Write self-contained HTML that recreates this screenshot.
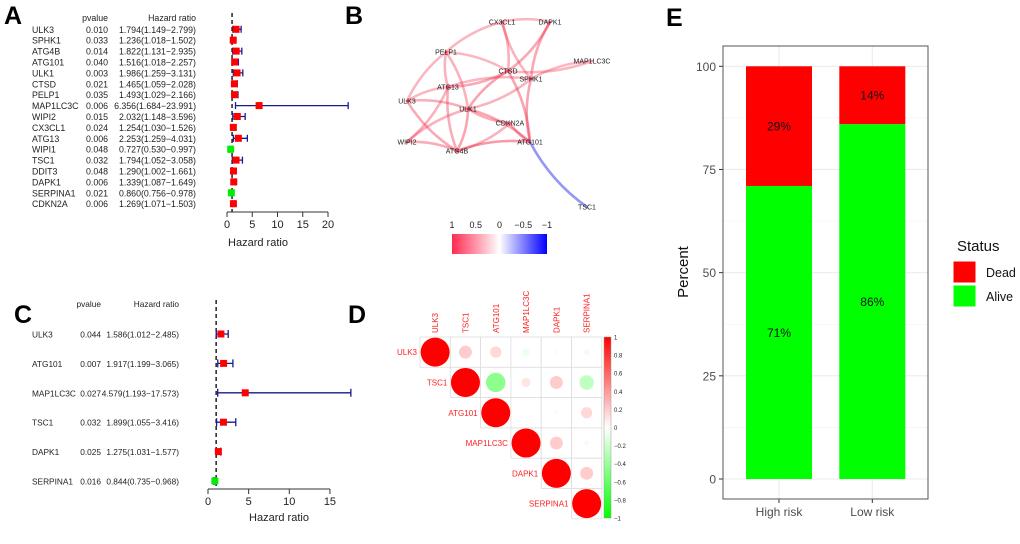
<!DOCTYPE html>
<html><head><meta charset="utf-8"><style>
body{margin:0;background:#fff;width:1020px;height:539px;overflow:hidden}
svg{font-family:"Liberation Sans",Arial,sans-serif}
</style></head><body>
<svg id="s" width="1020" height="539" viewBox="0 0 1020 539">
<g font-weight="bold" font-size="25" fill="#000">
<text x="4" y="24">A</text>
<text x="345" y="24">B</text>
<text x="14" y="323">C</text>
<text x="348" y="323">D</text>
<text x="666" y="26">E</text>
</g>
</svg>
<script>
// ---- Panel A data ----
const aGenes=["ULK3","SPHK1","ATG4B","ATG101","ULK1","CTSD","PELP1","MAP1LC3C","WIPI2","CX3CL1","ATG13","WIPI1","TSC1","DDIT3","DAPK1","SERPINA1","CDKN2A"];
const aP=["0.010","0.033","0.014","0.040","0.003","0.021","0.035","0.006","0.015","0.024","0.006","0.048","0.032","0.048","0.006","0.021","0.006"];
const aHR=[1.794,1.236,1.822,1.516,1.986,1.465,1.493,6.356,2.032,1.254,2.253,0.727,1.794,1.290,1.339,0.860,1.269];
const aLo=[1.149,1.018,1.131,1.018,1.259,1.059,1.029,1.684,1.148,1.030,1.259,0.530,1.052,1.002,1.087,0.756,1.071];
const aHi=[2.799,1.502,2.935,2.257,3.131,2.028,2.166,23.991,3.596,1.526,4.031,0.997,3.058,1.661,1.649,0.978,1.503];
const aTicks=[0,5,10,15,20];
// ---- Panel C data ----
const cGenes=["ULK3","ATG101","MAP1LC3C","TSC1","DAPK1","SERPINA1"];
const cP=["0.044","0.007","0.027","0.032","0.025","0.016"];
const cHR=[1.586,1.917,4.579,1.899,1.275,0.844];
const cLo=[1.012,1.199,1.193,1.055,1.031,0.735];
const cHi=[2.485,3.065,17.573,3.416,1.577,0.968];
const cTicks=[0,5,10,15];
// ---- Panel B network ----
const bNodes=["CX3CL1","DAPK1","PELP1","MAP1LC3C","CTSD","SPHK1","ATG13","ULK3","ULK1","CDKN2A","WIPI2","ATG4B","ATG101","TSC1"];
const bNodeX=[502,550,446,592,508,531,448,407,468,510,407,457,530,587];
const bNodeY=[22,22,52,61,71,79,87,101,109,123,142,151,142,207];
const bEdges=[["CX3CL1","DAPK1",0.3],["CX3CL1","PELP1",0.3],["CX3CL1","CTSD",0.35],["CX3CL1","SPHK1",0.35],["DAPK1","CTSD",0.45],["DAPK1","SPHK1",0.45],["PELP1","CTSD",0.3],["PELP1","ATG13",0.35],["PELP1","ULK1",0.35],["PELP1","ULK3",0.3],["MAP1LC3C","CTSD",0.3],["MAP1LC3C","SPHK1",0.3],["CTSD","ATG13",0.45],["CTSD","ULK1",0.5],["CTSD","ATG101",0.5],["SPHK1","ATG101",0.5],["SPHK1","ULK1",0.35],["SPHK1","ATG13",0.3],["ATG13","WIPI2",0.35],["ATG13","ATG4B",0.4],["ULK3","ULK1",0.4],["ULK3","ATG4B",0.45],["ULK3","ATG13",0.3],["ULK1","WIPI2",0.35],["ULK1","ATG4B",0.5],["ULK1","CDKN2A",0.4],["ULK1","ATG101",0.45],["CDKN2A","ATG101",0.45],["ATG4B","ATG101",0.6],["ATG4B","CDKN2A",0.35],["WIPI2","ATG4B",0.4],["ATG101","TSC1",-0.5]];
const bLegendTicks=[1,0.5,0,-0.5,-1];
// ---- Panel D correlation ----
const dGenes=["ULK3","TSC1","ATG101","MAP1LC3C","DAPK1","SERPINA1"];
const dCorr=[[1,0.2,0.15,-0.07,0.02,0.04],[0.2,1,-0.45,0.1,0.2,-0.25],[0.15,-0.45,1,0.01,0.02,0.15],[-0.07,0.1,0.01,1,0.2,0.03],[0.02,0.2,0.02,0.2,1,0.2],[0.04,-0.25,0.15,0.03,0.2,1]];
const dTicks=[1,0.8,0.6,0.4,0.2,0,-0.2,-0.4,-0.6,-0.8,-1];
// ---- Panel E stacked bars ----
const eCats=["High risk","Low risk"];
const eDead=[29,14];
const eAlive=[71,86];
const eTicks=[0,25,50,75,100];

const S=document.getElementById('s');const NS="http://www.w3.org/2000/svg";
function mk(t,a,p,txt){const e=document.createElementNS(NS,t);for(const k in a)e.setAttribute(k,a[k]);if(txt!==undefined)e.textContent=txt;(p||S).appendChild(e);return e;}

function forest(genes,P,HR,LO,HI,ticks,o){
  const g=mk('g',{});
  
  
  const xs=v=>o.x0+v*o.k, ys=i=>o.y0+i*o.dy;
  mk('text',{x:o.pX,y:o.hy,'text-anchor':'end','font-size':o.fs,fill:'#222'},g,'pvalue');
  mk('text',{x:o.hX,y:o.hy,'text-anchor':'end','font-size':o.fs,fill:'#222'},g,'Hazard ratio');
  mk('line',{x1:xs(1),x2:xs(1),y1:o.dTop,y2:o.axY,stroke:'#000','stroke-dasharray':'4,3','stroke-width':1.3},g);
  genes.forEach((n,i)=>{const y=ys(i);
    const r=mk('text',{x:32,y:y+3.5,'font-size':o.fs,fill:'#222'},g,n);
    
    
    mk('text',{x:o.pX,y:y+3.5,'text-anchor':'end','font-size':o.fs,fill:'#222'},g,P[i]);
    mk('text',{x:o.hX,y:y+3.5,'text-anchor':'end','font-size':o.fs,fill:'#222'},g,HR[i].toFixed(3)+'('+LO[i].toFixed(3)+'\u2212'+HI[i].toFixed(3)+')');
    const c=o.cap;
    mk('path',{d:`M${xs(LO[i])},${y}H${xs(HI[i])}M${xs(LO[i])},${y-c}V${y+c}M${xs(HI[i])},${y-c}V${y+c}`,stroke:'#1a1a8c','stroke-width':1.3,fill:'none'},g);
    const sq=mk('rect',{x:xs(HR[i])-o.sq/2,y:y-o.sq/2,width:o.sq,height:o.sq,fill:HR[i]>1?'#ff0000':'#00ee00'},g);
    
    
  });
  mk('line',{x1:xs(ticks[0]),x2:xs(ticks[ticks.length-1]),y1:o.axY,y2:o.axY,stroke:'#333'},g);
  ticks.forEach(t=>{mk('line',{x1:xs(t),x2:xs(t),y1:o.axY,y2:o.axY+5,stroke:'#333'},g);
    mk('text',{x:xs(t),y:o.axY+16,'text-anchor':'middle','font-size':11,fill:'#222'},g,t);});
  const xl=mk('text',{x:o.xlX,y:o.xlY,'text-anchor':'middle','font-size':11,fill:'#222'},g,'Hazard ratio');
  
  
}
forest(aGenes,aP,aHR,aLo,aHi,aTicks,{name:'forest-plot-a',x0:227,k:5.05,y0:29.3,dy:10.9,pX:108,hX:196,hy:21,fs:8.8,dTop:13,axY:212,cap:3.5,sq:7,xlX:258,xlY:246});
forest(cGenes,cP,cHR,cLo,cHi,cTicks,{name:'forest-plot-c',x0:208,k:8.13,y0:334,dy:29.4,pX:101,hX:179,hy:307,fs:8.3,dTop:300,axY:489,cap:4,sq:7,xlX:279,xlY:521});

// Panel B
(function(){
  const g=mk('g',{});
  
  
  const idx=n=>bNodes.indexOf(n);
  function col(r){const a=Math.abs(r);return r>0?`rgba(240,40,70,${0.2+a*0.45})`:`rgba(80,80,240,${0.3+a*0.6})`;}
  bEdges.forEach((e,k)=>{const i=idx(e[0]),j=idx(e[1]);const x1=bNodeX[i],y1=bNodeY[i],x2=bNodeX[j],y2=bNodeY[j];
    const mx=(x1+x2)/2,my=(y1+y2)/2,dx=x2-x1,dy=y2-y1;const f=(k%2?0.12:-0.12);
    const p=mk('path',{d:`M${x1},${y1}Q${mx-dy*f},${my+dx*f} ${x2},${y2}`,stroke:col(e[2]),'stroke-width':2.6,fill:'none','stroke-linecap':'round'},g);
    
    });
  bNodes.forEach((n,i)=>{const t=mk('text',{x:bNodeX[i],y:bNodeY[i]+2.5,'text-anchor':'middle','font-size':7,fill:'#222'},g,n);
    
    });
  const defs=mk('defs',{});const lg=mk('linearGradient',{id:'bg'},defs);
  [['0','#ff2a50'],['0.5','#ffffff'],['1','#0000ff']].forEach(s=>mk('stop',{offset:s[0],'stop-color':s[1]},lg));
  const cb=mk('rect',{x:452,y:234,width:95,height:20,fill:'url(#bg)'},g);
  
  
  bLegendTicks.forEach(t=>mk('text',{x:499.5-t*47.5,y:228,'text-anchor':'middle','font-size':9,fill:'#222'},g,t===0?'0':(t<0?'\u2212'+(-t):t)));
})();

// Panel D
(function(){
  const g=mk('g',{});
  
  
  const cx0=420,cy0=337,cs=30.3;
  function col(r){const a=Math.min(1,Math.abs(r));if(r>=0){const v=Math.round(255*(1-a));return `rgb(255,${v},${v})`;}const v=Math.round(255*(1-a));return `rgb(${v},255,${v})`;}
  dGenes.forEach((n,i)=>{
    for(let j=i;j<dGenes.length;j++){
      mk('rect',{x:cx0+j*cs,y:cy0+i*cs,width:cs,height:cs,fill:'#fff',stroke:'#ddd','stroke-width':0.8},g);
      const r=dCorr[i][j];const c=mk('circle',{cx:cx0+j*cs+cs/2,cy:cy0+i*cs+cs/2,r:14.5*Math.sqrt(Math.abs(r)),fill:col(r)},g);
      
      
    }
    mk('text',{x:cx0+i*cs-3,y:cy0+i*cs+cs/2+3,'text-anchor':'end','font-size':8,fill:'#ff2020'},g,n);
    mk('text',{transform:`translate(${cx0+i*cs+cs/2+3},${cy0-4}) rotate(-90)`,'font-size':8,fill:'#ff2020'},g,n);
  });
  const defs=mk('defs',{});const lg=mk('linearGradient',{id:'dg',x1:0,y1:0,x2:0,y2:1},defs);
  [['0','#ff0000'],['0.5','#ffffff'],['1','#00ff00']].forEach(s=>mk('stop',{offset:s[0],'stop-color':s[1]},lg));
  const cb=mk('rect',{x:604,y:337,width:7,height:181,fill:'url(#dg)',stroke:'#999','stroke-width':0.5},g);
  
  
  dTicks.forEach(t=>mk('text',{x:614,y:337+(1-t)/2*181+2.5,'font-size':6,fill:'#222'},g,t<0?'\u2212'+(-t):t));
})();

// Panel E
(function(){
  const g=mk('g',{});
  
  
  const L=723,R=928,T=46,B=499,ys=v=>479-v*4.127;
  mk('rect',{x:L,y:T,width:R-L,height:B-T,fill:'#fff'},g);
  [12.5,37.5,62.5,87.5].forEach(v=>mk('line',{x1:L,x2:R,y1:ys(v),y2:ys(v),stroke:'#f2f2f2','stroke-width':0.6},g));
  eTicks.forEach(v=>{mk('line',{x1:L,x2:R,y1:ys(v),y2:ys(v),stroke:'#ebebeb','stroke-width':1.1},g);
    mk('line',{x1:L-4,x2:L,y1:ys(v),y2:ys(v),stroke:'#333'},g);
    mk('text',{x:L-7,y:ys(v)+4.5,'text-anchor':'end','font-size':12,fill:'#4d4d4d'},g,v);});
  const xc=i=>779+i*93.3;
  eCats.forEach((c,i)=>{mk('line',{x1:xc(i),x2:xc(i),y1:T,y2:B,stroke:'#ebebeb','stroke-width':1.1},g);});
  eCats.forEach((c,i)=>{const x=xc(i)-33;
    const a=mk('rect',{x:x,y:ys(eAlive[i]),width:66,height:ys(0)-ys(eAlive[i]),fill:'#00ff00'},g);
    
    
    const d=mk('rect',{x:x,y:ys(eAlive[i]+eDead[i]),width:66,height:ys(eAlive[i])-ys(eAlive[i]+eDead[i]),fill:'#ff0000'},g);
    
    
    mk('text',{x:xc(i),y:ys(eAlive[i]/2)+4.5,'text-anchor':'middle','font-size':12,fill:'#111'},g,eAlive[i]+'%');
    mk('text',{x:xc(i),y:ys(eAlive[i]+eDead[i]/2)+4.5,'text-anchor':'middle','font-size':12,fill:'#111'},g,eDead[i]+'%');
    mk('line',{x1:xc(i),x2:xc(i),y1:B,y2:B+4,stroke:'#333'},g);
    mk('text',{x:xc(i),y:B+17,'text-anchor':'middle','font-size':12,fill:'#4d4d4d'},g,c);
  });
  mk('rect',{x:L,y:T,width:R-L,height:B-T,fill:'none',stroke:'#555','stroke-width':1},g);
  const yt=mk('text',{transform:'translate(688,272) rotate(-90)','text-anchor':'middle','font-size':15,fill:'#111'},g,'Percent');
  
  
  mk('text',{x:957,y:251,'font-size':15,fill:'#111'},g,'Status');
  [['Dead','#ff0000',261],['Alive','#00ff00',285]].forEach(l=>{
    const le=mk('g',{},g);
    
    
    mk('rect',{x:953,y:l[2],width:23,height:22,fill:l[1],stroke:'#fff'},le);
    mk('text',{x:986,y:l[2]+16,'font-size':12.5,fill:'#111'},le,l[0]);});
})();
</script>
</body></html>
